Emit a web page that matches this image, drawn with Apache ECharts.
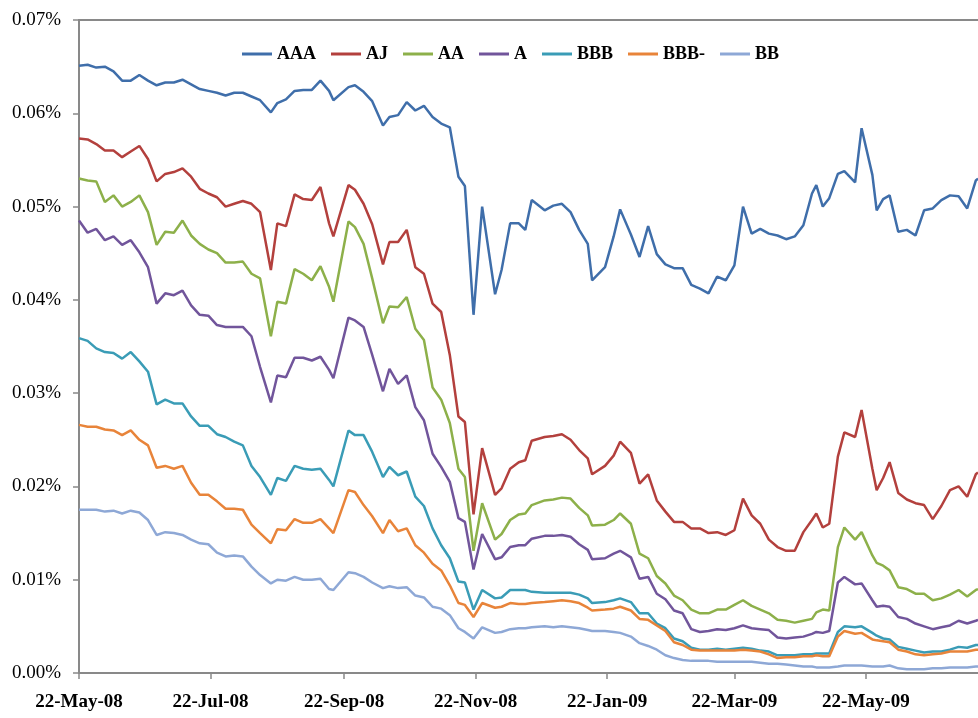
<!DOCTYPE html>
<html><head><meta charset="utf-8">
<script src="https://cdn.jsdelivr.net/npm/echarts@6/dist/echarts.min.js"></script>
<style>html,body{margin:0;padding:0;background:#fff}#c{width:978px;height:718px}</style>
</head><body><div id="c"></div>
<script>
// Sample dates
const dates = [
'2008-05-22','2008-05-26','2008-05-30','2008-06-03','2008-06-07','2008-06-11','2008-06-15','2008-06-19','2008-06-23','2008-06-27',
'2008-07-01','2008-07-05','2008-07-09','2008-07-13','2008-07-17','2008-07-21','2008-07-25','2008-07-29','2008-08-02','2008-08-06',
'2008-08-10','2008-08-14','2008-08-19','2008-08-22','2008-08-26','2008-08-30','2008-09-03','2008-09-07','2008-09-11','2008-09-15',
'2008-09-17','2008-09-24','2008-09-27','2008-10-01','2008-10-05','2008-10-10','2008-10-13','2008-10-17','2008-10-21','2008-10-25',
'2008-10-29','2008-11-02','2008-11-06','2008-11-10','2008-11-14','2008-11-17','2008-11-21','2008-11-25','2008-12-01','2008-12-04',
'2008-12-08','2008-12-12','2008-12-15','2008-12-18','2008-12-24','2008-12-28','2009-01-01','2009-01-05','2009-01-09','2009-01-13',
'2009-01-15','2009-01-21','2009-01-25','2009-01-28','2009-02-02','2009-02-06','2009-02-10','2009-02-14','2009-02-18','2009-02-22',
'2009-02-26','2009-03-02','2009-03-06','2009-03-10','2009-03-14','2009-03-18','2009-03-22','2009-03-26','2009-03-30','2009-04-03',
'2009-04-07','2009-04-11','2009-04-15','2009-04-19','2009-04-23','2009-04-27','2009-04-29','2009-05-02','2009-05-05','2009-05-09',
'2009-05-12','2009-05-17','2009-05-20','2009-05-25','2009-05-27','2009-05-30','2009-06-02','2009-06-06','2009-06-10','2009-06-14',
'2009-06-18','2009-06-22','2009-06-26','2009-06-30','2009-07-04','2009-07-08','2009-07-12','2009-07-13'
];

// Values in basis points (1 bp = 0.01%)
const AAA = [
6.51,6.52,6.49,6.50,6.45,6.35,6.35,6.41,6.35,6.30,
6.33,6.33,6.36,6.31,6.26,6.24,6.22,6.19,6.22,6.22,
6.18,6.14,6.01,6.11,6.15,6.24,6.25,6.25,6.35,6.24,
6.14,6.28,6.30,6.23,6.13,5.87,5.96,5.98,6.12,6.03,
6.08,5.96,5.89,5.85,5.32,5.22,3.84,5.00,4.06,4.32,
4.82,4.82,4.75,5.07,4.96,5.01,5.03,4.94,4.75,4.60,
4.21,4.35,4.68,4.97,4.70,4.46,4.79,4.49,4.38,4.34,
4.34,4.16,4.12,4.07,4.25,4.21,4.37,5.00,4.71,4.76,
4.71,4.69,4.65,4.68,4.80,5.14,5.23,5.00,5.09,5.35,
5.38,5.26,5.84,5.34,4.96,5.08,5.12,4.73,4.75,4.69,
4.96,4.98,5.07,5.12,5.11,4.98,5.28,5.30];

const AJ = [
5.73,5.72,5.67,5.60,5.60,5.53,5.59,5.65,5.51,5.27,
5.35,5.37,5.41,5.32,5.19,5.14,5.10,5.00,5.03,5.06,
5.03,4.94,4.32,4.82,4.79,5.13,5.08,5.07,5.21,4.82,
4.68,5.23,5.18,5.03,4.81,4.38,4.62,4.62,4.75,4.35,
4.28,3.96,3.87,3.41,2.75,2.69,1.70,2.41,1.91,1.98,
2.19,2.26,2.28,2.49,2.53,2.54,2.56,2.50,2.39,2.30,
2.13,2.22,2.33,2.48,2.36,2.03,2.13,1.85,1.73,1.62,
1.62,1.55,1.55,1.50,1.51,1.48,1.53,1.87,1.69,1.60,
1.43,1.35,1.31,1.31,1.51,1.64,1.71,1.56,1.60,2.32,
2.58,2.53,2.82,2.19,1.96,2.09,2.26,1.93,1.86,1.82,
1.80,1.65,1.79,1.96,2.00,1.89,2.13,2.15];

const AA = [
5.30,5.28,5.27,5.05,5.12,5.00,5.05,5.12,4.94,4.59,
4.73,4.72,4.85,4.69,4.60,4.54,4.50,4.40,4.40,4.41,
4.28,4.23,3.61,3.98,3.96,4.33,4.28,4.21,4.36,4.14,
3.98,4.84,4.78,4.60,4.23,3.75,3.93,3.92,4.03,3.69,
3.57,3.06,2.93,2.68,2.19,2.10,1.31,1.82,1.43,1.49,
1.64,1.70,1.71,1.80,1.85,1.86,1.88,1.87,1.77,1.69,
1.58,1.59,1.64,1.71,1.60,1.28,1.23,1.04,0.96,0.83,
0.78,0.68,0.64,0.64,0.68,0.68,0.73,0.78,0.72,0.68,
0.64,0.57,0.56,0.54,0.56,0.58,0.65,0.68,0.67,1.35,
1.56,1.43,1.51,1.26,1.18,1.15,1.10,0.92,0.90,0.85,
0.85,0.78,0.80,0.84,0.89,0.82,0.89,0.90];

const A = [
4.85,4.72,4.76,4.64,4.68,4.59,4.64,4.51,4.35,3.96,
4.07,4.05,4.10,3.94,3.84,3.83,3.73,3.71,3.71,3.71,
3.61,3.28,2.90,3.19,3.17,3.38,3.38,3.35,3.39,3.25,
3.16,3.81,3.78,3.71,3.41,3.02,3.26,3.10,3.19,2.85,
2.71,2.35,2.21,2.05,1.66,1.62,1.11,1.49,1.22,1.24,
1.35,1.37,1.37,1.44,1.47,1.47,1.48,1.46,1.38,1.32,
1.22,1.23,1.28,1.31,1.24,1.01,1.03,0.85,0.79,0.67,
0.64,0.47,0.44,0.45,0.47,0.46,0.48,0.51,0.48,0.47,
0.46,0.38,0.37,0.38,0.39,0.42,0.44,0.43,0.45,0.97,
1.03,0.95,0.96,0.78,0.71,0.72,0.71,0.60,0.58,0.53,
0.50,0.47,0.49,0.51,0.56,0.53,0.56,0.57];

const BBB = [
3.59,3.56,3.48,3.44,3.43,3.37,3.44,3.34,3.23,2.88,
2.93,2.89,2.89,2.75,2.65,2.65,2.56,2.53,2.48,2.44,
2.22,2.10,1.91,2.09,2.06,2.22,2.19,2.18,2.19,2.07,
2.00,2.60,2.55,2.55,2.37,2.10,2.21,2.12,2.16,1.89,
1.79,1.55,1.37,1.23,0.98,0.97,0.68,0.89,0.80,0.81,
0.89,0.89,0.89,0.87,0.86,0.86,0.86,0.86,0.84,0.80,
0.75,0.76,0.78,0.80,0.76,0.64,0.64,0.53,0.48,0.37,
0.34,0.27,0.25,0.25,0.26,0.25,0.26,0.27,0.26,0.24,
0.23,0.19,0.19,0.19,0.20,0.20,0.21,0.21,0.21,0.44,
0.50,0.49,0.50,0.43,0.40,0.37,0.36,0.28,0.26,0.24,
0.22,0.23,0.23,0.25,0.28,0.27,0.30,0.30];

const BBBm = [
2.66,2.64,2.64,2.61,2.60,2.55,2.60,2.50,2.44,2.20,
2.22,2.19,2.22,2.04,1.91,1.91,1.84,1.76,1.76,1.75,
1.59,1.50,1.39,1.54,1.53,1.65,1.61,1.61,1.65,1.55,
1.50,1.96,1.94,1.80,1.68,1.50,1.64,1.52,1.55,1.37,
1.29,1.17,1.10,0.94,0.75,0.73,0.60,0.75,0.70,0.71,
0.75,0.74,0.74,0.75,0.76,0.77,0.78,0.77,0.75,0.70,
0.67,0.68,0.69,0.71,0.67,0.58,0.57,0.51,0.45,0.33,
0.30,0.25,0.24,0.24,0.24,0.24,0.24,0.25,0.24,0.23,
0.20,0.16,0.17,0.17,0.18,0.18,0.19,0.18,0.18,0.39,
0.45,0.42,0.43,0.36,0.35,0.34,0.33,0.25,0.23,0.20,
0.19,0.20,0.21,0.23,0.23,0.23,0.25,0.25];

const BB = [
1.75,1.75,1.75,1.73,1.74,1.71,1.74,1.72,1.64,1.48,
1.51,1.50,1.48,1.43,1.39,1.38,1.29,1.25,1.26,1.25,
1.14,1.05,0.96,1.00,0.99,1.03,1.00,1.00,1.01,0.90,
0.89,1.08,1.07,1.03,0.97,0.91,0.93,0.91,0.92,0.83,
0.81,0.71,0.69,0.62,0.48,0.44,0.37,0.49,0.43,0.44,
0.47,0.48,0.48,0.49,0.50,0.49,0.50,0.49,0.48,0.46,
0.45,0.45,0.44,0.43,0.39,0.32,0.29,0.25,0.19,0.16,
0.14,0.13,0.13,0.13,0.12,0.12,0.12,0.12,0.12,0.11,
0.10,0.10,0.09,0.08,0.07,0.07,0.06,0.06,0.06,0.07,
0.08,0.08,0.08,0.07,0.07,0.07,0.08,0.05,0.04,0.04,
0.04,0.05,0.05,0.06,0.06,0.06,0.07,0.07];

const seriesNames = ['AAA','AJ','AA','A','BBB','BBB-','BB'];
const seriesValues = [AAA, AJ, AA, A, BBB, BBBm, BB];
const seriesColors = ['#3F6EAA','#B3403D','#8DB04A','#71559B','#3A9CB6','#E8843A','#8EA8D6'];

const tickDates = ['2008-05-22','2008-07-22','2008-09-22','2008-11-22','2009-01-22','2009-03-22','2009-05-22'];
const tickLabels = ['22-May-08','22-Jul-08','22-Sep-08','22-Nov-08','22-Jan-09','22-Mar-09','22-May-09'];

function toTs(s){ const p = s.split('-'); return Date.UTC(+p[0], +p[1]-1, +p[2]); }
const tickTs = tickDates.map(toTs);
const xMin = toTs('2008-05-22');
const xMax = toTs('2009-07-13');

const axisColor = '#898989';
const chart = echarts.init(document.getElementById('c'), null, {renderer:'canvas'});
chart.setOption({
  animation: false,
  backgroundColor: '#ffffff',
  grid: {left: 79, right: 0, top: 20, bottom: 45, containLabel: false},
  legend: {
    data: seriesNames,
    left: 237, top: 40,
    icon: 'rect', itemWidth: 30, itemHeight: 3, itemGap: 15,
    textStyle: {fontFamily: 'Liberation Serif', fontWeight: 'bold', fontSize: 18, color: '#000', lineHeight: 18}
  },
  xAxis: [{
    type: 'value', min: xMin, max: xMax,
    axisLine: {show: true, lineStyle: {color: axisColor, width: 2}},
    axisTick: {show: true, customValues: tickTs, length: 6, inside: false, lineStyle: {color: axisColor, width: 1.5}},
    axisLabel: {
      customValues: tickTs,
      formatter: function (v) {
        for (let i = 0; i < tickTs.length; i++) { if (Math.abs(tickTs[i] - v) < 43200000) return tickLabels[i]; }
        return '';
      },
      fontFamily: 'Liberation Serif', fontWeight: 'bold', fontSize: 19, color: '#000', margin: 20
    },
    splitLine: {show: false}
  }, {
    type: 'value', position: 'top', min: xMin, max: xMax,
    axisLine: {show: true, lineStyle: {color: axisColor, width: 2}},
    axisTick: {show: false}, axisLabel: {show: false}, splitLine: {show: false}
  }],
  yAxis: {
    type: 'value', min: 0, max: 7, interval: 1,
    axisLine: {show: true, lineStyle: {color: axisColor, width: 2}},
    axisTick: {show: true, length: 6, inside: false, lineStyle: {color: axisColor, width: 1.5}},
    axisLabel: {
      formatter: function (v) { return (v / 100).toFixed(2) + '%'; },
      fontFamily: 'Liberation Serif', fontSize: 19, color: '#000', margin: 18
    },
    splitLine: {show: false}
  },
  series: seriesNames.map(function (n, i) {
    return {
      name: n, type: 'line', showSymbol: false, symbol: 'none',
      data: dates.map(function (d, j) { return [toTs(d), seriesValues[i][j]]; }),
      lineStyle: {width: 2.5, color: seriesColors[i]},
      itemStyle: {color: seriesColors[i]},
      emphasis: {disabled: true}
    };
  })
});
</script>
</body></html>
